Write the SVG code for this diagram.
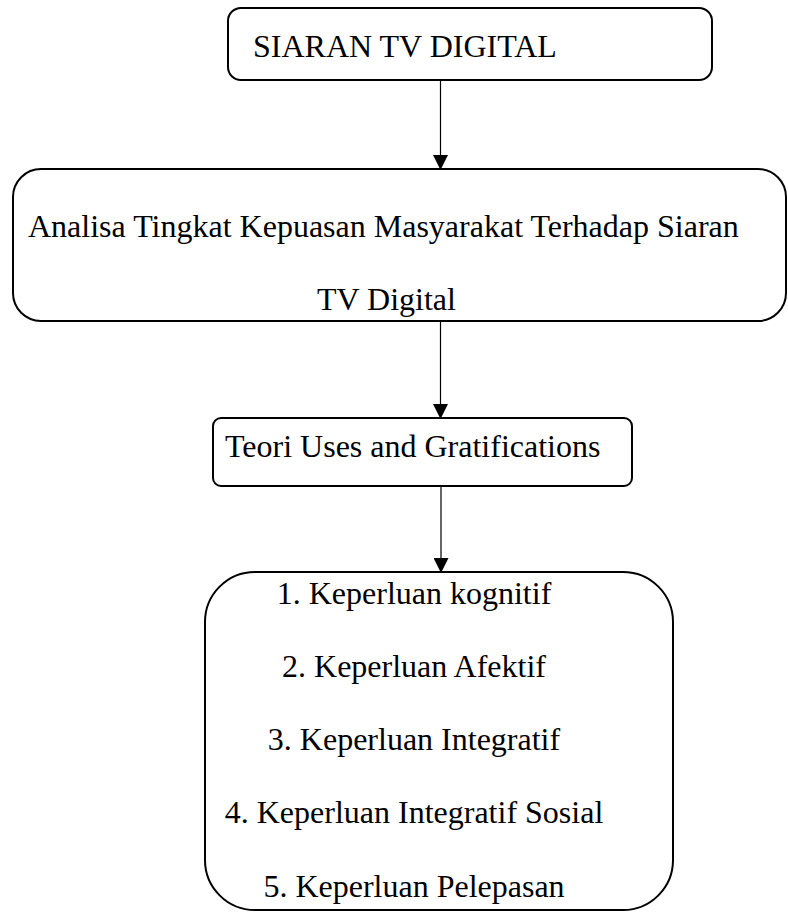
<svg xmlns="http://www.w3.org/2000/svg" width="788" height="912" viewBox="0 0 788 912">
<style>
.box{fill:#fff;stroke:#000;stroke-width:2}
.t{font-family:"Liberation Serif","Times New Roman",serif;font-size:32px;fill:#000}
.c{stroke:#000;stroke-width:1.2;fill:none}
</style>
<defs>
<marker id="ah" markerWidth="15" markerHeight="15" refX="14" refY="7.5" orient="auto" markerUnits="userSpaceOnUse">
<path d="M0,0 L15,7.5 L0,15 Z" fill="#000"/>
</marker>
</defs>
<rect width="788" height="912" fill="#fff"/>
<g id="connectors">
<line class="c" x1="440.5" y1="80" x2="440.5" y2="169" marker-end="url(#ah)"/>
<line class="c" x1="440.5" y1="321" x2="440.5" y2="418" marker-end="url(#ah)"/>
<line class="c" x1="441" y1="486" x2="441" y2="572" marker-end="url(#ah)"/>
</g>
<g id="node-siaran">
<rect class="box" x="228" y="8" width="484" height="72" rx="13"/>
<text class="t" x="253" y="57">SIARAN TV DIGITAL</text>
</g>
<g id="node-analisa">
<rect class="box" x="13" y="169" width="773" height="152" rx="28"/>
<text class="t" x="28" y="237">Analisa Tingkat Kepuasan Masyarakat Terhadap Siaran</text>
<text class="t" x="317" y="310">TV Digital</text>
</g>
<g id="node-teori">
<rect class="box" x="213" y="418" width="419" height="68" rx="8"/>
<text class="t" x="225" y="457">Teori Uses and Gratifications</text>
</g>
<g id="node-keperluan">
<rect class="box" x="205" y="572" width="468" height="338" rx="50"/>
<text class="t" text-anchor="middle" x="414" y="604">1. Keperluan kognitif</text>
<text class="t" text-anchor="middle" x="414" y="677">2. Keperluan Afektif</text>
<text class="t" text-anchor="middle" x="414" y="750">3. Keperluan Integratif</text>
<text class="t" text-anchor="middle" x="414" y="823">4. Keperluan Integratif Sosial</text>
<text class="t" text-anchor="middle" x="414" y="897">5. Keperluan Pelepasan</text>
</g>
</svg>
